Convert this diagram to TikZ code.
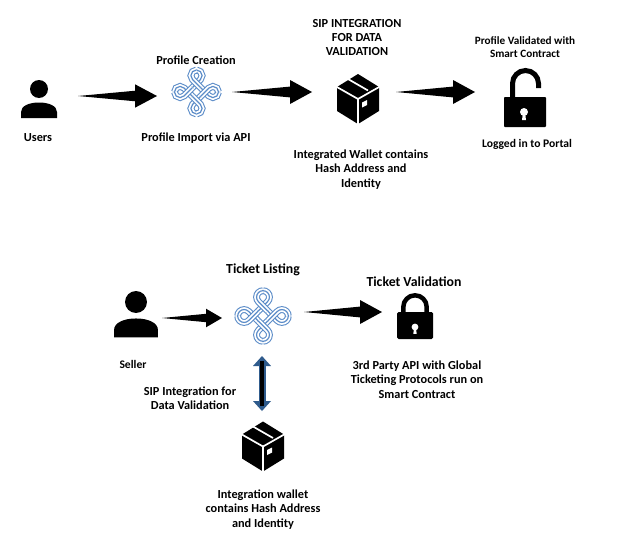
\documentclass[tikz,border=0pt]{standalone}
\usepackage{fontspec}
\setmainfont{Carlito}
\usetikzlibrary{calc}
\definecolor{knotblue}{HTML}{5B8CC8}
\definecolor{arrowblue}{HTML}{2F5B8C}
\tikzset{
  lbl/.style={font=\bfseries\fontsize{12.3}{14.4}\selectfont,align=center,text=black,inner sep=0pt},
  lblbig/.style={lbl,font=\bfseries\fontsize{13.8}{14.4}\selectfont},
  lblsmall/.style={lbl,font=\bfseries\fontsize{11.2}{13.2}\selectfont},
  lblmid/.style={lbl,font=\bfseries\fontsize{11.6}{14.4}\selectfont},
  port/.style={inner sep=0pt,outer sep=0pt,minimum height=2pt,draw=none},
  person/.pic={\begin{scope}[y=1pt]
    \fill (0,0) circle (9);
    \fill (-18,-29) -- (-18,-23) .. controls (-18,-17) and (-10,-13.5) .. (0,-13.5) .. controls (10,-13.5) and (18,-17) .. (18,-23) -- (18,-29) -- cycle;
  \end{scope}},
  knot/.pic={\begin{scope}[y=1pt]
    \foreach \ang in {0,90,180,270}{%
      \begin{scope}[rotate=\ang]
        \foreach \wd/\col in {6.8pt/knotblue,4.7pt/white,1.2pt/knotblue}{%
          \draw[line width=\wd,color=\col] (-4.25,4.25) -- (0,8.5) -- (3.96,12.46) arc (-45:90:5.6);}
        \foreach \wd/\col in {6.8pt/knotblue,4.7pt/white,1.2pt/knotblue}{%
          \draw[line width=\wd,color=\col] (0,22.02) arc (90:225:5.6) -- (0,8.5) -- (4.25,4.25);}
      \end{scope}}
  \end{scope}},
  parcel/.pic={\begin{scope}[y=1pt]
    \fill (0,25) -- (21,12) -- (21,-12) -- (0,-25) -- (-21,-12) -- (-21,12) -- cycle;
    \draw[white,line width=1.7pt] (-22,12.5) -- (0,0) -- (22,12.5);
    \draw[white,line width=1.7pt] (0,0) -- (0,-26);
    \draw[white,line width=1.7pt] (-10,20) -- (10,8.5);
    \fill[white] (4,-3.5) -- (9,-1) -- (9,-6) -- (4,-8.5) -- cycle;
  \end{scope}},
  keyhole/.pic={\begin{scope}[y=1pt]
    \fill[white] (0,0) circle (4);
    \fill[white] (-1.2,-2) -- (1.2,-2) -- (2,-8) -- (-2,-8) -- cycle;
  \end{scope}},
  openlock/.pic={\begin{scope}[y=1pt]
    \fill[rounded corners=0.8pt] (-21,-15) rectangle (21,15);
    \draw[line width=5pt] (-12.5,14) -- (-12.5,28.5) arc (180:0:13) -- (13.5,24);
    \pic at (-1,0) {keyhole};
  \end{scope}},
  closedlock/.pic={\begin{scope}[y=1pt]
    \fill[rounded corners=1.5pt] (-18,-13.5) rectangle (18,13.5);
    \draw[line width=4.5pt] (-11.7,12) -- (-11.7,18.5) arc (180:0:11.7) -- (11.7,12);
    \pic[scale=0.85] at (0,-1.5) {keyhole};
  \end{scope}}
}
% tapered connector: tail, tip, head half width, head length
\newcommand{\taper}[4]{%
  \fill let \p1=#1, \p2=#2 in
    (\x1,\y1) -- (\x2-#4,\y2+#3*0.45) -- (\x2-#4,\y2+#3) -- (\x2,\y2)
    -- (\x2-#4,\y2-#3) -- (\x2-#4,\y2-#3*0.45) -- cycle;}
\begin{document}
\begin{tikzpicture}[x=1pt,y=-1pt]
\useasboundingbox (0,0) rectangle (640,546);
\fill[white] (0,0) rectangle (640,546);
% icons
\pic at (39,89) {person};
\pic at (196.5,92) {knot};
\pic at (358,99) {parcel};
\pic at (525,112) {openlock};
\pic[scale=1.22] at (136,302) {person};
\pic[scale=1.15] at (263,316) {knot};
\pic at (263,446.5) {parcel};
\pic at (415,325.5) {closedlock};
% connector ports
\node[port,minimum width=78pt] (users) at (39,96) {};
\node[port,minimum width=75pt] (knotA) at (194.5,92) {};
\node[port,minimum width=84pt] (boxA) at (354,92) {};
\node[port,minimum width=60pt] (lockA) at (505,92) {};
\node[port,minimum width=52pt] (seller) at (136,318) {};
\node[port,minimum width=82pt] (knotB) at (263,312) {};
\node[port,minimum width=40pt] (lockB) at (402,312) {};
\node[port,minimum width=1pt,minimum height=80pt] (knotBv) at (262,316) {};
\node[port,minimum width=1pt,minimum height=40pt] (boxBv) at (262,431) {};
% arrows
\taper{(users.east)}{([yshift=-4pt]knotA.west)}{11.7pt}{22pt}
\taper{(knotA.east)}{(boxA.west)}{12pt}{22pt}
\taper{(boxA.east)}{(lockA.west)}{12pt}{22pt}
\taper{(seller.east)}{([yshift=-6pt]knotB.west)}{9.3pt}{16pt}
\taper{(knotB.east)}{(lockB.west)}{12pt}{22pt}
\draw[arrowblue,line width=7pt] ([yshift=-8pt]knotBv.south) -- ([yshift=8pt]boxBv.north);
\fill[arrowblue] (knotBv.south) -- ++(9,10) -- ++(-18,0) -- cycle;
\fill[arrowblue] (boxBv.north) -- ++(9,-10) -- ++(-18,0) -- cycle;
\draw[black,line width=4pt] ([yshift=-5pt]knotBv.south) -- ([yshift=5pt]boxBv.north);
% labels
\node[lbl] (l1) at (38,137.5) {Users};
\node[lbl] (l2) at (196,60) {Profile Creation};
\node[lbl] (l3) at (196,138) {Profile Import via API};
\node[lbl] (l4) at (357,37.5) {SIP INTEGRATION\\FOR DATA\\VALIDATION};
\node[lbl] (l5) at (361,169.5) {Integrated Wallet contains\\Hash Address and\\Identity};
\node[lblsmall] (l6) at (525,47.5) {Profile Validated with\\Smart Contract};
\node[lblmid] (l7) at (527,144) {Logged in to Portal};
\node[lblmid] (l8) at (133,364) {Seller};
\node[lblbig] (l9) at (263,270) {Ticket Listing};
\node[lblbig] (l10) at (414,282) {Ticket Validation};
\node[lbl] (l11) at (190,398) {SIP Integration for\\Data Validation};
\node[lbl] (l12) at (417,379.5) {3rd Party API with Global\\Ticketing Protocols run on\\Smart Contract};
\node[lbl] (l13) at (263,509.5) {Integration wallet\\contains Hash Address\\and Identity};
\end{tikzpicture}
\end{document}
